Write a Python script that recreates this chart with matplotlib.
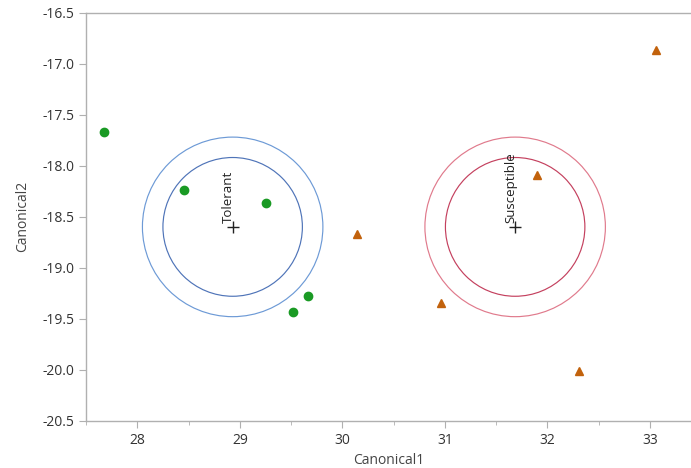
import matplotlib.pyplot as plt
from matplotlib.patches import Circle
from matplotlib.ticker import MultipleLocator

# canonical scores per group
tolerant_x = [27.68, 28.46, 29.26, 29.66, 29.52]
tolerant_y = [-17.67, -18.24, -18.37, -19.28, -19.43]
susceptible_x = [33.06, 31.90, 30.14, 30.96, 32.31]
susceptible_y = [-16.87, -18.09, -18.67, -19.35, -20.01]

# group means and their two contour radii (inner = mean confidence, outer = 50% contour)
groups = ["Tolerant", "Susceptible"]
means_x = [28.93, 31.685]
means_y = [-18.60, -18.60]
inner_r = [0.68, 0.68]
outer_r = [0.88, 0.88]
inner_colors = ["#4f74b8", "#c4405e"]
outer_colors = ["#6d9ad6", "#e07a8c"]


def main():
    plt.rcParams["font.family"] = ["Open Sans", "DejaVu Sans"]
    fig = plt.figure(figsize=(6.91, 4.68), dpi=100)
    ax = fig.add_axes([0.1245, 0.101, 0.8755, 0.872])

    for i, name in enumerate(groups):
        ax.add_patch(Circle((means_x[i], means_y[i]), outer_r[i], fill=False,
                            edgecolor=outer_colors[i], linewidth=0.85))
        ax.add_patch(Circle((means_x[i], means_y[i]), inner_r[i], fill=False,
                            edgecolor=inner_colors[i], linewidth=0.85))
        ax.plot(means_x[i], means_y[i], marker="+", color="#222222",
                markersize=9, markeredgewidth=1.0, linestyle="none")
        ax.text(means_x[i] + 0.02, means_y[i] + 0.04, name, rotation=90,
                ha="right", va="bottom", fontsize=9.5, color="#222222")

    ax.plot(tolerant_x, tolerant_y, "o", color="#1a9a24", markersize=6,
            linestyle="none")
    ax.plot(susceptible_x, susceptible_y, "^", color="#c2620c", markersize=6.3,
            linestyle="none")

    ax.set_xlim(27.5, 33.4)
    ax.set_ylim(-20.5, -16.5)
    ax.xaxis.set_major_locator(MultipleLocator(1))
    ax.xaxis.set_minor_locator(MultipleLocator(0.5))
    ax.yaxis.set_major_locator(MultipleLocator(0.5))
    ax.yaxis.set_major_formatter(plt.FormatStrFormatter("%.1f"))

    for side in ["left", "bottom", "top"]:
        ax.spines[side].set_color("#b0b0b0")
        ax.spines[side].set_linewidth(1.0)
    ax.spines["right"].set_visible(False)
    ax.tick_params(which="major", length=5, color="#b0b0b0", labelsize=10,
                   labelcolor="#333333")
    ax.tick_params(which="minor", length=3, color="#b0b0b0")

    ax.set_xlabel("Canonical1", fontsize=10, color="#444444", labelpad=4)
    ax.set_ylabel("Canonical2", fontsize=10, color="#444444", labelpad=9)

    fig.savefig("out.png", dpi=100)


if __name__ == "__main__":
    main()
